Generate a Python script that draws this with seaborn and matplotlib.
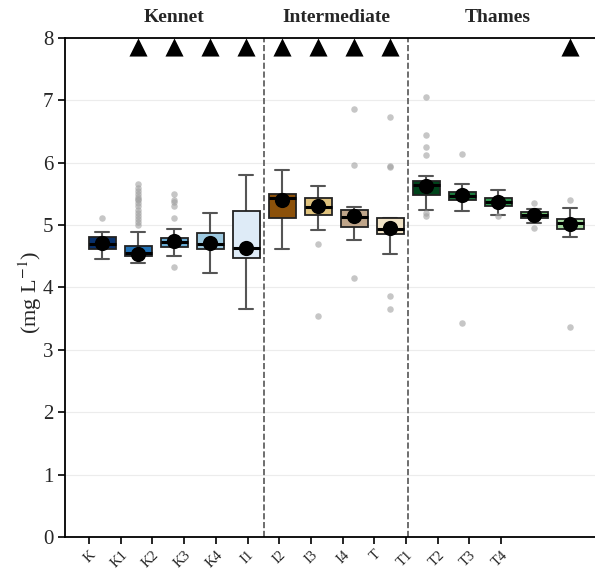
import numpy as np
import pandas as pd
import seaborn as sns
import matplotlib.pyplot as plt

# site names and box summaries (mg L-1)
sites = ['K', 'K1', 'K2', 'K3', 'K4', 'I1', 'I2', 'I3', 'I4',
         'T', 'T1', 'T2', 'T3', 'T4']
q1 = [4.62, 4.51, 4.65, 4.61, 4.48, 5.12, 5.16, 4.97, 4.86,
      5.48, 5.40, 5.31, 5.11, 4.94]
med = [4.70, 4.55, 4.73, 4.70, 4.64, 5.43, 5.29, 5.13, 4.94,
       5.64, 5.47, 5.37, 5.16, 5.03]
q3 = [4.81, 4.66, 4.80, 4.88, 5.22, 5.50, 5.44, 5.25, 5.11,
      5.71, 5.53, 5.44, 5.21, 5.10]
whislo = [4.45, 4.40, 4.50, 4.24, 3.66, 4.61, 4.92, 4.76, 4.54,
          5.25, 5.23, 5.16, 5.03, 4.81]
whishi = [4.89, 4.89, 4.94, 5.20, 5.81, 5.89, 5.63, 5.29, 5.11,
          5.79, 5.66, 5.56, 5.26, 5.28]
means = [4.72, 4.54, 4.75, 4.71, 4.64, 5.40, 5.30, 5.15, 4.95,
         5.63, 5.48, 5.37, 5.17, 5.02]
fliers = [
    [5.11],
    [5.00, 5.05, 5.10, 5.15, 5.20, 5.25, 5.30, 5.35, 5.40, 5.42,
     5.45, 5.50, 5.55, 5.60, 5.66],
    [4.33, 5.12, 5.30, 5.37, 5.40, 5.50],
    [],
    [],
    [],
    [3.55, 4.69],
    [4.15, 5.96, 6.86],
    [3.65, 3.86, 5.93, 5.95, 6.73],
    [5.14, 5.19, 6.12, 6.26, 6.44, 7.05],
    [3.43, 6.14],
    [5.14],
    [4.95, 5.36],
    [3.37, 5.40],
]
colors = ['#08306b', '#2171b5', '#6baed6', '#9ecae1', '#deebf7',
          '#8c510a', '#dfc27d', '#bfa58a', '#f1e3c6',
          '#00441b', '#1b7a3d', '#2f9a4f', '#6cc070', '#a6dba0']
flagged = ['K1', 'K2', 'K3', 'K4', 'I1', 'I2', 'I3', 'I4', 'T4']
groups = ['Kennet', 'Intermediate', 'Thames']
group_sites = [sites[0:5], sites[5:9], sites[9:14]]

sns.set_style('whitegrid')
plt.rcParams['font.family'] = ['Liberation Serif', 'DejaVu Serif']
plt.rcParams['mathtext.fontset'] = 'stix'

fig = plt.figure(figsize=(5.95, 5.75), dpi=100)
ax = fig.add_axes([0.1092, 0.0661, 0.8908, 0.8678])

pos = np.arange(len(sites))
stats = [dict(med=m, q1=a, q3=b, whislo=lo, whishi=hi, fliers=[], label=s)
         for s, m, a, b, lo, hi in zip(sites, med, q1, q3, whislo, whishi)]
bp = ax.bxp(stats, positions=pos, widths=0.75, patch_artist=True,
            showfliers=False,
            boxprops=dict(edgecolor='#222222', linewidth=1.3),
            medianprops=dict(color='black', linewidth=2.2),
            whiskerprops=dict(color='#555555', linewidth=1.5),
            capprops=dict(color='#555555', linewidth=1.5))
for patch, c in zip(bp['boxes'], colors):
    patch.set_facecolor(c)
    patch.set_zorder(3)
for line in bp['medians']:
    line.set_zorder(4)

# outliers
fl = pd.DataFrame([(i, v) for i, vals in enumerate(fliers) for v in vals],
                  columns=['pos', 'value'])
sns.scatterplot(data=fl, x='pos', y='value', color='#a0a0a0', alpha=0.6,
                s=22, linewidth=0, ax=ax, zorder=2)

# means
sns.scatterplot(x=pos, y=means, color='black', s=120, linewidth=0,
                ax=ax, zorder=6)

# flagged sites
fpos = [sites.index(s) for s in flagged]
sns.scatterplot(x=fpos, y=[7.85] * len(fpos), marker='^', color='black',
                s=170, linewidth=0, ax=ax, zorder=6, clip_on=False)

ax.axvline(4.5, color='#555555', linestyle='--', linewidth=1.2, zorder=1)
ax.axvline(8.5, color='#555555', linestyle='--', linewidth=1.2, zorder=1)

for g, members in zip(groups, group_sites):
    idx = [sites.index(s) for s in members]
    ax.text(np.mean(idx), 8.33, g, ha='center', va='center',
            fontsize=14, fontweight='bold', clip_on=False)

ax.set_xlim(-1.03, 13.69)
ax.set_ylim(0, 8)
ax.set_yticks(range(0, 9))
ax.set_xticks(np.arange(len(sites)) * 0.88 - 0.36)
ax.set_xticklabels(sites, rotation=45, fontsize=10.5, ha='right', va='top',
                   rotation_mode='anchor')
ax.tick_params(axis='y', labelsize=15, length=5, width=1.2, color='black',
               left=True)
ax.tick_params(axis='x', length=5, width=1.2, color='black', bottom=True,
               pad=3)
ax.set_ylabel('(mg L$^{-1}$)', fontsize=16)
ax.yaxis.set_label_coords(-0.04, 0.49)
ax.set_xlabel('')
ax.xaxis.label.set_visible(False)
ax.grid(axis='x', visible=False)
ax.grid(axis='y', color='#ececec', linewidth=0.8)
for side in ['left', 'bottom', 'top']:
    ax.spines[side].set_color('black')
    ax.spines[side].set_linewidth(1.3)
ax.spines['right'].set_visible(False)

fig.savefig('out.png', dpi=100)
